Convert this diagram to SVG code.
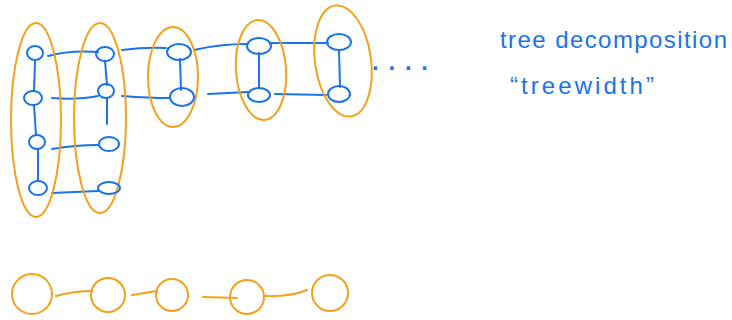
<svg xmlns="http://www.w3.org/2000/svg" width="732" height="320" viewBox="0 0 732 320">
<style>
.n{fill:none;stroke:#1a73e8;stroke-width:2}
.e{fill:none;stroke:#1a73e8;stroke-width:2;stroke-linecap:round}
.b{fill:none;stroke:#f5a01a;stroke-width:2}
.be{fill:none;stroke:#f5a01a;stroke-width:2;stroke-linecap:round}
.t{font-family:"Liberation Sans",sans-serif;fill:#1a73e8}
</style>
<rect width="732" height="320" fill="#fff"/>
<g id="connectors">
<path class="e" d="M35 61 L34 91 M34 105 L36 135 M38 149 L38 180"/>
<path class="e" d="M105 61 L107 85 M107 98 L107 124"/>
<path class="e" d="M180 59 L181 90 M259 53 L259 88 M339 50 L340 87"/>
<path class="e" d="M48 56 Q70 50 98 52 M122 50 Q145 47 166 48 M194 50 Q220 44 246 44 M271 43 L328 43"/>
<path class="e" d="M52 98 Q78 100 98 96 M122 96 Q150 98 169 98 M208 94 L248 92 M275 94 L326 95"/>
<path class="e" d="M52 149 Q75 145 98 145 M52 193 L98 191"/>
<path class="be" d="M56 296 Q75 291 92 291 M132 295 L157 291 M203 297 L237 298 M265 296 Q290 297 307 290"/>
</g>
<g id="bag1"><ellipse class="b" cx="36" cy="120" rx="25" ry="97"/></g>
<g id="bag2"><ellipse class="b" cx="100" cy="118" rx="26" ry="95"/></g>
<g id="bag3"><ellipse class="b" cx="173" cy="77" rx="25" ry="50"/></g>
<g id="bag4"><ellipse class="b" cx="261" cy="70" rx="25" ry="50" transform="rotate(-4 261 70)"/></g>
<g id="bag5"><ellipse class="b" cx="343" cy="61" rx="28" ry="56" transform="rotate(-8 343 61)"/></g>
<g id="a1"><ellipse class="n" cx="35" cy="53" rx="8" ry="7"/></g>
<g id="a2"><ellipse class="n" cx="33" cy="98" rx="9" ry="7"/></g>
<g id="a3"><ellipse class="n" cx="37" cy="142" rx="8" ry="7"/></g>
<g id="a4"><ellipse class="n" cx="38" cy="188" rx="9" ry="7"/></g>
<g id="b1"><ellipse class="n" cx="105" cy="54" rx="9" ry="7"/></g>
<g id="b2"><ellipse class="n" cx="106" cy="91" rx="8" ry="7"/></g>
<g id="b3"><ellipse class="n" cx="109" cy="144" rx="10" ry="7"/></g>
<g id="b4"><ellipse class="n" cx="109" cy="188" rx="11" ry="6"/></g>
<g id="c1"><ellipse class="n" cx="179" cy="52" rx="12" ry="8"/></g>
<g id="c2"><ellipse class="n" cx="182" cy="97" rx="12" ry="9"/></g>
<g id="d1"><ellipse class="n" cx="259" cy="46" rx="12" ry="8"/></g>
<g id="d2"><ellipse class="n" cx="259" cy="95" rx="11" ry="7"/></g>
<g id="e1"><ellipse class="n" cx="339" cy="42" rx="12" ry="8"/></g>
<g id="e2"><ellipse class="n" cx="339" cy="94" rx="11" ry="8"/></g>
<g id="dots"><text class="t" x="372" y="70" font-size="24" font-weight="bold" textLength="56" lengthAdjust="spacing">....</text></g>
<g id="p1"><circle class="b" cx="32" cy="294" r="20"/></g>
<g id="p2"><circle class="b" cx="108" cy="295" r="17"/></g>
<g id="p3"><circle class="b" cx="172" cy="295" r="16"/></g>
<g id="p4"><circle class="b" cx="247" cy="297" r="17"/></g>
<g id="p5"><circle class="b" cx="330" cy="293" r="18"/></g>
<g id="label1"><text class="t" x="500" y="48" font-size="24" textLength="227" lengthAdjust="spacing">tree decomposition</text></g>
<g id="label2"><text class="t" x="510" y="94" font-size="24" textLength="144" lengthAdjust="spacing">“treewidth”</text></g>
</svg>
